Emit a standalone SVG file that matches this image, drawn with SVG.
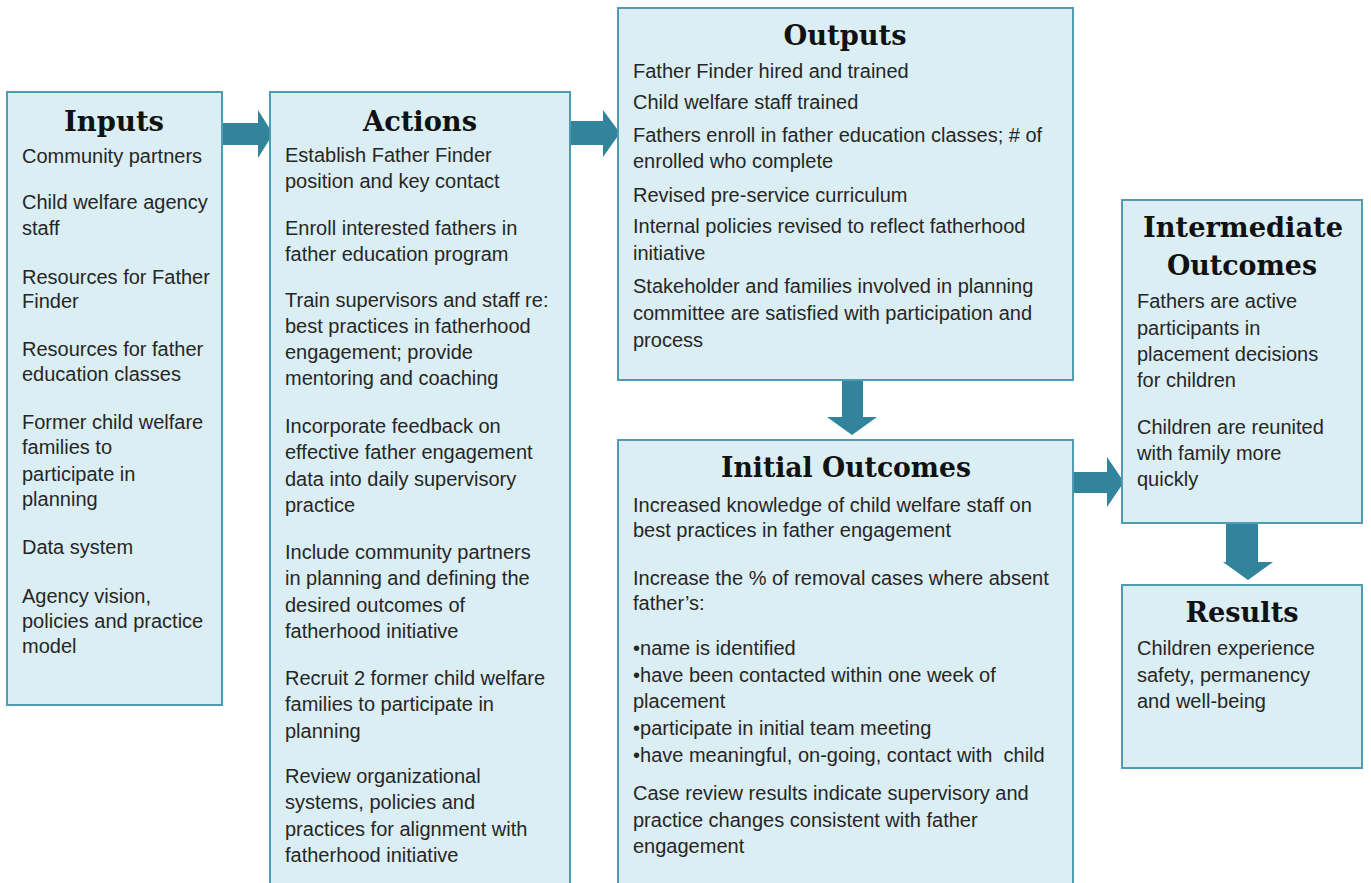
<svg xmlns="http://www.w3.org/2000/svg" width="1371" height="883" viewBox="0 0 1371 883">
<style>
.box{fill:#DBEEF4;stroke:#4F9BB1;stroke-width:2}
.t{font-family:"DejaVu Serif","Liberation Serif",serif;font-weight:bold;font-size:28px;fill:#111;text-anchor:middle}
.b{font-family:"Liberation Sans",Arial,sans-serif;font-size:20px;fill:#262626}
.arr{fill:#31849B}
</style>
<rect width="1371" height="883" fill="#FFFFFF"/>
<g id="connectors">
<polygon class="arr" points="221,123 258,123 258,110 273,134 258,158 258,145 221,145"/>
<polygon class="arr" points="569,121 603,121 603,110 620,133 603,157 603,145 569,145"/>
<polygon class="arr" points="842,379 863,379 863,417 877,417 852,435 827,417 842,417"/>
<polygon class="arr" points="1072,472 1107,472 1107,457 1124,482 1107,507 1107,493 1072,493"/>
<polygon class="arr" points="1226,523 1258,523 1258,562 1273,562 1248,580 1223,562 1226,562"/>
</g>
<g id="inputs">
<rect class="box" x="7" y="92" width="215" height="613"/>
<text class="t" x="114" y="131" textLength="100" lengthAdjust="spacingAndGlyphs">Inputs</text>
<text class="b" x="22"><tspan x="22" y="163">Community partners</tspan><tspan x="22" y="209">Child welfare agency</tspan><tspan x="22" y="235">staff</tspan><tspan x="22" y="284">Resources for Father</tspan><tspan x="22" y="308">Finder</tspan><tspan x="22" y="356">Resources for father</tspan><tspan x="22" y="381">education classes</tspan><tspan x="22" y="429">Former child welfare</tspan><tspan x="22" y="454">families to</tspan><tspan x="22" y="481">participate in</tspan><tspan x="22" y="506">planning</tspan><tspan x="22" y="554">Data system</tspan><tspan x="22" y="603">Agency vision,</tspan><tspan x="22" y="628">policies and practice</tspan><tspan x="22" y="653">model</tspan></text>
</g>
<g id="actions">
<rect class="box" x="270" y="92" width="300" height="800"/>
<text class="t" x="420" y="131" textLength="114" lengthAdjust="spacingAndGlyphs">Actions</text>
<text class="b"><tspan x="285" y="162">Establish Father Finder</tspan><tspan x="285" y="188">position and key contact</tspan><tspan x="285" y="235">Enroll interested fathers in</tspan><tspan x="285" y="261">father education program</tspan><tspan x="285" y="307">Train supervisors and staff re:</tspan><tspan x="285" y="333">best practices in fatherhood</tspan><tspan x="285" y="359">engagement; provide</tspan><tspan x="285" y="385">mentoring and coaching</tspan><tspan x="285" y="433">Incorporate feedback on</tspan><tspan x="285" y="459">effective father engagement</tspan><tspan x="285" y="486">data into daily supervisory</tspan><tspan x="285" y="512">practice</tspan><tspan x="285" y="559">Include community partners</tspan><tspan x="285" y="585">in planning and defining the</tspan><tspan x="285" y="612">desired outcomes of</tspan><tspan x="285" y="638">fatherhood initiative</tspan><tspan x="285" y="685">Recruit 2 former child welfare</tspan><tspan x="285" y="711">families to participate in</tspan><tspan x="285" y="738">planning</tspan><tspan x="285" y="783">Review organizational</tspan><tspan x="285" y="809">systems, policies and</tspan><tspan x="285" y="836">practices for alignment with</tspan><tspan x="285" y="862">fatherhood initiative</tspan></text>
</g>
<g id="outputs">
<rect class="box" x="618" y="8" width="455" height="372"/>
<text class="t" x="845" y="45" textLength="123" lengthAdjust="spacingAndGlyphs">Outputs</text>
<text class="b"><tspan x="633" y="78">Father Finder hired and trained</tspan><tspan x="633" y="109">Child welfare staff trained</tspan><tspan x="633" y="142">Fathers enroll in father education classes; # of</tspan><tspan x="633" y="168">enrolled who complete</tspan><tspan x="633" y="202">Revised pre-service curriculum</tspan><tspan x="633" y="233">Internal policies revised to reflect fatherhood</tspan><tspan x="633" y="260">initiative</tspan><tspan x="633" y="293">Stakeholder and families involved in planning</tspan><tspan x="633" y="320">committee are satisfied with participation and</tspan><tspan x="633" y="347">process</tspan></text>
</g>
<g id="initial-outcomes">
<rect class="box" x="618" y="440" width="455" height="452"/>
<text class="t" x="846" y="477" textLength="250" lengthAdjust="spacingAndGlyphs">Initial Outcomes</text>
<text class="b"><tspan x="633" y="512">Increased knowledge of child welfare staff on</tspan><tspan x="633" y="537">best practices in father engagement</tspan><tspan x="633" y="585">Increase the % of removal cases where absent</tspan><tspan x="633" y="610">father’s:</tspan><tspan x="633" y="655">•name is identified</tspan><tspan x="633" y="682">•have been contacted within one week of</tspan><tspan x="633" y="708">placement</tspan><tspan x="633" y="735">•participate in initial team meeting</tspan><tspan x="633" y="762">•have meaningful, on-going, contact with&#160; child</tspan><tspan x="633" y="800">Case review results indicate supervisory and</tspan><tspan x="633" y="827">practice changes consistent with father</tspan><tspan x="633" y="853">engagement</tspan></text>
</g>
<g id="intermediate-outcomes">
<rect class="box" x="1122" y="200" width="240" height="323"/>
<text class="t" x="1243" y="237" textLength="200" lengthAdjust="spacingAndGlyphs">Intermediate</text>
<text class="t" x="1242" y="275" textLength="150" lengthAdjust="spacingAndGlyphs">Outcomes</text>
<text class="b"><tspan x="1137" y="308">Fathers are active</tspan><tspan x="1137" y="335">participants in</tspan><tspan x="1137" y="361">placement decisions</tspan><tspan x="1137" y="387">for children</tspan><tspan x="1137" y="434">Children are reunited</tspan><tspan x="1137" y="460">with family more</tspan><tspan x="1137" y="486">quickly</tspan></text>
</g>
<g id="results">
<rect class="box" x="1122" y="585" width="240" height="183"/>
<text class="t" x="1242" y="622" textLength="113" lengthAdjust="spacingAndGlyphs">Results</text>
<text class="b"><tspan x="1137" y="655">Children experience</tspan><tspan x="1137" y="682">safety, permanency</tspan><tspan x="1137" y="708">and well-being</tspan></text>
</g>
</svg>
